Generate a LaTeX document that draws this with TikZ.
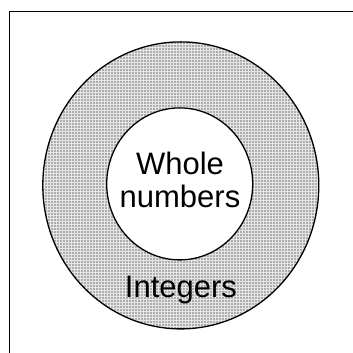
\documentclass[tikz,border=0pt]{standalone}
\usepackage{fontspec}
\setmainfont{Liberation Sans}
\usetikzlibrary{shapes.geometric,patterns.meta}

\tikzdeclarepattern{name=stipple, type=uncolored,
  bounding box={(0,0) and (3pt,3pt)}, tile size={(3pt,3pt)},
  code={\fill (0.5pt,0.5pt) rectangle (2.3pt,2.3pt);}}

\begin{document}
\begin{tikzpicture}[
  x=1pt, y=1pt,
  font=\fontsize{31}{33}\selectfont,
  set/.style={draw, line width=1.3pt, ellipse, inner sep=0pt},
  setname/.style={anchor=base, inner sep=0pt},
]
  \useasboundingbox (0,0) rectangle (353,353);
  \clip (0,0) rectangle (353,353);

  % frame, cut off at right and bottom
  \node[draw, line width=1.5pt, anchor=north west, minimum width=380pt,
        minimum height=380pt, inner sep=0pt] (frame) at (8.5,342) {};

  % integers ring and whole numbers disc
  \node[set, preaction={fill=gray!20}, pattern=stipple, pattern color=black!62,
        minimum width=276pt, minimum height=287pt]
        (integers) at (180.8,167.6) {};
  \node[set, fill=white, minimum width=146pt, minimum height=152pt]
        (whole) at (179.7,169.1) {};

  \node[setname] (wholetext) at (180,178) {Whole};
  \node[setname] (numberstext) at (180,145) {numbers};
  \node[setname] (integerstext) at (181,55) {Integers};
\end{tikzpicture}
\end{document}
